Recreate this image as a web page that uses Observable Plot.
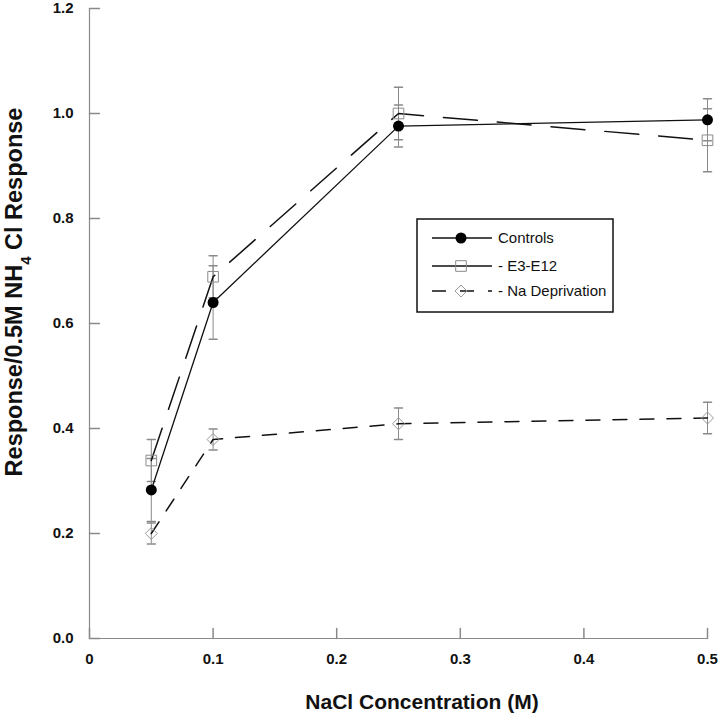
<!DOCTYPE html>
<html><head><meta charset="utf-8">
<script src="https://cdn.jsdelivr.net/npm/d3@7"></script>
<script src="https://cdn.jsdelivr.net/npm/@observablehq/plot@0.6"></script>
<style>body{margin:0;background:#fff;} #chart{width:720px;height:716px;}</style>
</head><body><div id="chart"></div>
<script>
// ---- data ----
const concentrations = [0.05, 0.1, 0.25, 0.5];
const seriesNames = ["Controls", "- E3-E12", "- Na Deprivation"];
const controlsMean = [0.283, 0.640, 0.976, 0.988];
const controlsErr  = [0.060, 0.070, 0.040, 0.040];
const e3e12Mean    = [0.339, 0.689, 1.000, 0.949];
const e3e12Err     = [0.040, 0.040, 0.050, 0.060];
const naDepMean    = [0.200, 0.379, 0.409, 0.420];
const naDepErr     = [0.020, 0.020, 0.030, 0.030];
const xTicks = [0, 0.1, 0.2, 0.3, 0.4, 0.5];
const yTicks = [0, 0.2, 0.4, 0.6, 0.8, 1.0, 1.2];
const xTitle = "NaCl Concentration (M)";
const yTitleParts = ["Response/0.5M NH", "4", " Cl Response"];

const FONT = "'Liberation Sans', Arial, Helvetica, sans-serif";
const rowsOf = (name, means, errs) => concentrations.map((c, i) => ({
  series: name, conc: c, mean: means[i], lo: means[i] - errs[i], hi: means[i] + errs[i]
}));
const controls = rowsOf(seriesNames[0], controlsMean, controlsErr);
const e3e12 = rowsOf(seriesNames[1], e3e12Mean, e3e12Err);
const naDep = rowsOf(seriesNames[2], naDepMean, naDepErr);
const all = [...controls, ...e3e12, ...naDep];

const lineShape = {draw(context, l) { context.moveTo(0, 0); context.lineTo(0, -l); }};
const axisGrey = "#8a8a8a";
const errGrey = "#8a8a8a";

const chart = Plot.plot({
  width: 720, height: 716,
  marginLeft: 89, marginRight: 13, marginTop: 8, marginBottom: 78,
  style: {fontFamily: FONT, background: "white", color: "#111"},
  x: {domain: [0, 0.5], axis: null},
  y: {domain: [0, 1.2], axis: null},
  marks: [
    Plot.ruleX([0], {stroke: axisGrey, strokeWidth: 1.2}),
    Plot.ruleY([0], {stroke: axisGrey, strokeWidth: 1.2}),
    Plot.vector(yTicks, {y: d => d, frameAnchor: "left", length: 10, rotate: 90, anchor: "start", shape: lineShape, stroke: axisGrey}),
    Plot.vector(xTicks, {x: d => d, frameAnchor: "bottom", length: 10, rotate: 0, anchor: "start", shape: lineShape, stroke: axisGrey}),
    Plot.text(yTicks, {y: d => d, frameAnchor: "left", dx: -16, textAnchor: "end", text: d3.format(".1f"), fontSize: 15, fontWeight: "bold", fill: "#111"}),
    Plot.text(xTicks, {x: d => d, frameAnchor: "bottom", dy: 25, text: d => String(d), fontSize: 15, fontWeight: "bold", fill: "#111"}),
    // error bars
    Plot.ruleX(all, {x: "conc", y1: "lo", y2: "hi", stroke: errGrey, strokeWidth: 1}),
    Plot.vector(all, {x: "conc", y: "lo", length: 8, rotate: 90, anchor: "middle", shape: lineShape, stroke: errGrey}),
    Plot.vector(all, {x: "conc", y: "hi", length: 8, rotate: 90, anchor: "middle", shape: lineShape, stroke: errGrey}),
    // lines
    Plot.line(controls, {x: "conc", y: "mean", stroke: "#111", strokeWidth: 1.3}),
    Plot.line(e3e12, {x: "conc", y: "mean", stroke: "#111", strokeWidth: 1.5, strokeDasharray: "34,20"}),
    Plot.line(naDep, {x: "conc", y: "mean", stroke: "#111", strokeWidth: 1.5, strokeDasharray: "14,13"}),
    // markers
    Plot.dot(e3e12, {x: "conc", y: "mean", symbol: "square", r: 6, stroke: "#8a8a8a", fill: "none", strokeWidth: 1}),
    Plot.dot(naDep, {x: "conc", y: "mean", symbol: "diamond2", r: 5.4, stroke: "#9a9a9a", fill: "none", strokeWidth: 1}),
    Plot.dot(controls, {x: "conc", y: "mean", r: 5.5, fill: "#000", stroke: "none"})
  ]
});
document.getElementById("chart").appendChild(chart);

// ---- titles and legend ----
const svg = d3.select(chart);
svg.append("text")
  .attr("x", 422).attr("y", 709)
  .attr("text-anchor", "middle")
  .attr("font-family", FONT).attr("font-size", 21).attr("font-weight", "bold").attr("fill", "#111")
  .text(xTitle);

const yt = svg.append("text")
  .attr("transform", "translate(22,292) rotate(-90)")
  .attr("text-anchor", "middle")
  .attr("font-family", FONT).attr("font-size", 23.5).attr("font-weight", "bold").attr("fill", "#111");
yt.append("tspan").text(yTitleParts[0]);
yt.append("tspan").attr("font-size", 15).attr("dy", 9).text(yTitleParts[1]);
yt.append("tspan").attr("dy", -9).text(yTitleParts[2]);

const lg = svg.append("g").attr("font-family", FONT).attr("text-anchor", "start");
lg.append("rect").attr("x", 417).attr("y", 219).attr("width", 196).attr("height", 93)
  .attr("fill", "white").attr("stroke", "#111").attr("stroke-width", 1.5);
const legendRows = [
  {name: seriesNames[0], y: 238, dash: null, sym: d3.symbolCircle, size: Math.PI * 5.5 * 5.5, fill: "#000", stroke: "none"},
  {name: seriesNames[1], y: 266, dash: null, sym: d3.symbolSquare, size: Math.PI * 36, fill: "none", stroke: "#8a8a8a"},
  {name: seriesNames[2], y: 291, dash: "14,14", sym: d3.symbolDiamond2, size: Math.PI * 5.4 * 5.4, fill: "none", stroke: "#9a9a9a"}
];
legendRows.forEach(r => {
  const ln = lg.append("line").attr("x1", 432).attr("x2", 492).attr("y1", r.y).attr("y2", r.y)
    .attr("stroke", "#111").attr("stroke-width", 1.3);
  if (r.dash) ln.attr("stroke-dasharray", r.dash);
  lg.append("path").attr("d", d3.symbol(r.sym, r.size)()).attr("transform", `translate(461,${r.y})`)
    .attr("fill", r.fill).attr("stroke", r.stroke);
  lg.append("text").attr("x", 498).attr("y", r.y).attr("dy", "0.35em").attr("text-anchor", "start")
    .attr("font-size", 15).attr("fill", "#111").text(r.name);
});
</script>
</body></html>
